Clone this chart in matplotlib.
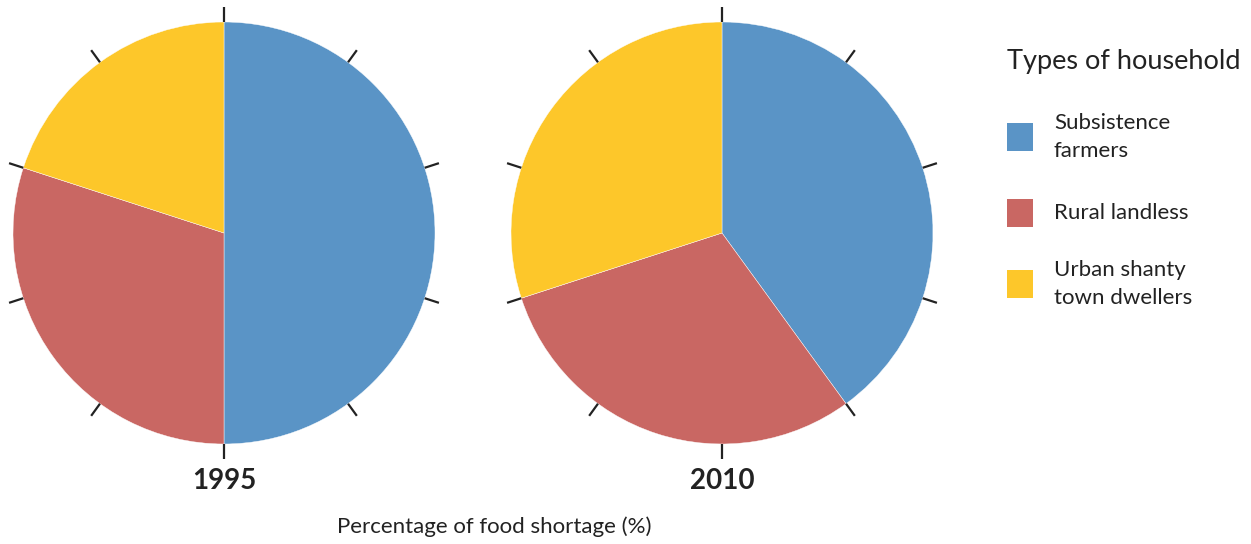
import matplotlib.pyplot as plt
import numpy as np

plt.rcParams["font.family"] = ["Lato", "DejaVu Sans"]

# data
years = ["1995", "2010"]
categories = ["Subsistence\nfarmers", "Rural landless", "Urban shanty\ntown dwellers"]
share_1995 = [50, 30, 20]
share_2010 = [40, 30, 30]
colors = ["#5A94C6", "#C96763", "#FDC72A"]
legend_title = "Types of household"
xlabel = "Percentage of food shortage (%)"

W, H = 1251, 544
fig = plt.figure(figsize=(W / 100, H / 100), dpi=100)
ax = fig.add_axes([0, 0, 1, 1])

radius = 211
centers = [(224, H - 233), (722, H - 233)]

for (cx, cy), vals, year in zip(centers, [share_1995, share_2010], years):
    ax.pie(vals, colors=colors, startangle=90, counterclock=False,
           center=(cx, cy), radius=radius, frame=True,
           wedgeprops=dict(linewidth=0.3, edgecolor="white"))
    # ticks every 10 %
    for k in range(10):
        a = np.pi / 2 - 2 * np.pi * k / 10
        ax.plot([cx + radius * np.cos(a), cx + (radius + 15) * np.cos(a)],
                [cy + radius * np.sin(a), cy + (radius + 15) * np.sin(a)],
                color="#222222", lw=1.6, solid_capstyle="butt")
    ax.text(cx, H - 481, year, ha="center", va="center",
            fontsize=20, fontweight="bold", color="#222222")

ax.set_xlim(0, W)
ax.set_ylim(0, H)
ax.set_aspect("equal")
ax.axis("off")

ax.text(494, H - 527, xlabel, ha="center", va="center", fontsize=16, color="#222222")

ax.text(1007, H - 61, legend_title, ha="left", va="center", fontsize=19.5, color="#222222")
box_y = [137, 213, 284]
for y, c, lab in zip(box_y, colors, categories):
    ax.add_patch(plt.Rectangle((1007, H - y - 14), 26, 28, color=c, lw=0))
    ax.text(1054, H - y, lab, ha="left", va="center", fontsize=16,
            color="#222222", linespacing=1.55)

fig.savefig("out.png", dpi=100)
